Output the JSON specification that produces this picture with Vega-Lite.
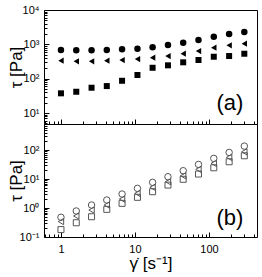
{
  "$schema": "https://vega.github.io/schema/vega-lite/v6.json",
  "padding": {"left": 6, "top": 3, "right": 4, "bottom": 0},
  "spacing": 0,
  "bounds": "flush",
  "datasets": {
    "top": [
      {"s": "c", "x": 1, "y": 684}, {"s": "c", "x": 1.61, "y": 670}, {"s": "c", "x": 2.59, "y": 670}, {"s": "c", "x": 4.16, "y": 684}, {"s": "c", "x": 6.69, "y": 716}, {"s": "c", "x": 10.8, "y": 747}, {"s": "c", "x": 17.3, "y": 818}, {"s": "c", "x": 27.9, "y": 955}, {"s": "c", "x": 44.8, "y": 1114}, {"s": "c", "x": 72.1, "y": 1337}, {"s": "c", "x": 116, "y": 1668}, {"s": "c", "x": 187, "y": 2000}, {"s": "c", "x": 300, "y": 2287},
      {"s": "t", "x": 1, "y": 334}, {"s": "t", "x": 1.61, "y": 320}, {"s": "t", "x": 2.59, "y": 320}, {"s": "t", "x": 4.16, "y": 334}, {"s": "t", "x": 6.69, "y": 350}, {"s": "t", "x": 10.8, "y": 374}, {"s": "t", "x": 17.3, "y": 408}, {"s": "t", "x": 27.9, "y": 457}, {"s": "t", "x": 44.8, "y": 533}, {"s": "t", "x": 72.1, "y": 639}, {"s": "t", "x": 116, "y": 798}, {"s": "t", "x": 187, "y": 937}, {"s": "t", "x": 300, "y": 1043},
      {"s": "s", "x": 1, "y": 37.5}, {"s": "s", "x": 1.61, "y": 41.7}, {"s": "s", "x": 2.59, "y": 54.6}, {"s": "s", "x": 4.16, "y": 61}, {"s": "s", "x": 6.69, "y": 87}, {"s": "s", "x": 10.8, "y": 128}, {"s": "s", "x": 17.3, "y": 208}, {"s": "s", "x": 27.9, "y": 245}, {"s": "s", "x": 44.8, "y": 300}, {"s": "s", "x": 72.1, "y": 350}, {"s": "s", "x": 116, "y": 436}, {"s": "s", "x": 187, "y": 457}, {"s": "s", "x": 300, "y": 533}
    ],
    "bottom": [
      {"s": "c", "x": 1, "y": 0.48}, {"s": "c", "x": 1.61, "y": 0.79}, {"s": "c", "x": 2.59, "y": 1.27}, {"s": "c", "x": 4.16, "y": 1.89}, {"s": "c", "x": 6.69, "y": 3.04}, {"s": "c", "x": 10.8, "y": 4.77}, {"s": "c", "x": 17.3, "y": 7.7}, {"s": "c", "x": 27.9, "y": 12}, {"s": "c", "x": 44.8, "y": 19.4}, {"s": "c", "x": 72.1, "y": 32}, {"s": "c", "x": 116, "y": 51.7}, {"s": "c", "x": 187, "y": 83}, {"s": "c", "x": 300, "y": 137},
      {"s": "t", "x": 1, "y": 0.34}, {"s": "t", "x": 1.61, "y": 0.53}, {"s": "t", "x": 2.59, "y": 0.85}, {"s": "t", "x": 4.16, "y": 1.27}, {"s": "t", "x": 6.69, "y": 2.04}, {"s": "t", "x": 10.8, "y": 3.2}, {"s": "t", "x": 17.3, "y": 5.2}, {"s": "t", "x": 27.9, "y": 8.1}, {"s": "t", "x": 44.8, "y": 13}, {"s": "t", "x": 72.1, "y": 21.6}, {"s": "t", "x": 116, "y": 34.8}, {"s": "t", "x": 187, "y": 56}, {"s": "t", "x": 300, "y": 87},
      {"s": "s", "x": 1, "y": 0.18}, {"s": "s", "x": 1.61, "y": 0.31}, {"s": "s", "x": 2.59, "y": 0.5}, {"s": "s", "x": 4.16, "y": 0.9}, {"s": "s", "x": 6.69, "y": 1.45}, {"s": "s", "x": 10.8, "y": 2.34}, {"s": "s", "x": 17.3, "y": 3.65}, {"s": "s", "x": 27.9, "y": 6.2}, {"s": "s", "x": 44.8, "y": 9.8}, {"s": "s", "x": 72.1, "y": 14.9}, {"s": "s", "x": 116, "y": 24.5}, {"s": "s", "x": 187, "y": 39.5}, {"s": "s", "x": 300, "y": 63.6}
    ]
  },
  "vconcat": [
    {
      "width": 213,
      "height": 114,
      "layer": [
        {
          "data": {"name": "top"},
          "mark": {"type": "point", "filled": true, "opacity": 1, "color": "black", "strokeWidth": 0},
          "encoding": {
            "x": {"field": "x", "type": "quantitative", "scale": {"type": "log", "domain": [0.59, 445], "nice": false},
              "axis": {"title": null, "labels": false, "domain": false, "minExtent": 0, "maxExtent": 0,
                "values": [0.6,0.7,0.8,0.9,1,2,3,4,5,6,7,8,9,10,20,30,40,50,60,70,80,90,100,200,300,400],
                "tickSize": {"condition": {"test": "abs(log(datum.value)/LN10 - round(log(datum.value)/LN10)) < 0.001", "value": -5}, "value": -3}}},
            "y": {"field": "y", "type": "quantitative", "scale": {"type": "log", "domain": [4.8, 10000], "nice": false},
              "axis": {"title": "τ [Pa]", "domain": false, "minExtent": 18, "maxExtent": 18,
                "values": [5,6,7,8,9,10,20,30,40,50,60,70,80,90,100,200,300,400,500,600,700,800,900,1000,2000,3000,4000,5000,6000,7000,8000,9000,10000],
                "labelExpr": "datum.value == 10 ? '10¹' : datum.value == 100 ? '10²' : datum.value == 1000 ? '10³' : datum.value == 10000 ? '10⁴' : ''",
                "tickSize": {"condition": {"test": "abs(log(datum.value)/LN10 - round(log(datum.value)/LN10)) < 0.001", "value": -5}, "value": -3}}},
            "shape": {"field": "s", "type": "nominal", "scale": {"domain": ["c", "t", "s"], "range": ["circle", "triangle-left", "square"]}, "legend": null},
            "size": {"field": "s", "type": "nominal", "scale": {"domain": ["c", "t", "s"], "range": [42, 36, 30]}, "legend": null}
          }
        },
        {
          "data": {"values": [{"x": 192, "y": 12.5, "t": "(a)"}]},
          "mark": {"type": "text", "fontSize": 22, "font": "Liberation Sans", "align": "center", "baseline": "alphabetic", "color": "black"},
          "encoding": {
            "x": {"field": "x", "type": "quantitative"},
            "y": {"field": "y", "type": "quantitative"},
            "text": {"field": "t"}
          }
        }
      ]
    },
    {
      "width": 213,
      "height": 113,
      "layer": [
        {
          "data": {"name": "bottom"},
          "mark": {"type": "point", "filled": false, "opacity": 1, "color": "#555", "strokeWidth": 1},
          "encoding": {
            "x": {"field": "x", "type": "quantitative", "scale": {"type": "log", "domain": [0.59, 445], "nice": false},
              "axis": {"title": "γ̇ [s⁻¹]", "domain": false, "labelPadding": 11, "titlePadding": 1,
                "values": [0.6,0.7,0.8,0.9,1,2,3,4,5,6,7,8,9,10,20,30,40,50,60,70,80,90,100,200,300,400],
                "labelExpr": "datum.value == 1 ? '1' : datum.value == 10 ? '10' : datum.value == 100 ? '100' : ''",
                "tickSize": {"condition": {"test": "abs(log(datum.value)/LN10 - round(log(datum.value)/LN10)) < 0.001", "value": -5}, "value": -3}}},
            "y": {"field": "y", "type": "quantitative", "scale": {"type": "log", "domain": [0.1, 794], "nice": false},
              "axis": {"title": "τ [Pa]", "domain": false, "minExtent": 18, "maxExtent": 18,
                "values": [0.1,0.2,0.3,0.4,0.5,0.6,0.7,0.8,0.9,1,2,3,4,5,6,7,8,9,10,20,30,40,50,60,70,80,90,100,200,300,400,500,600,700],
                "labelExpr": "datum.value == 0.1 ? '10⁻¹' : datum.value == 1 ? '10⁰' : datum.value == 10 ? '10¹' : datum.value == 100 ? '10²' : ''",
                "tickSize": {"condition": {"test": "abs(log(datum.value)/LN10 - round(log(datum.value)/LN10)) < 0.001", "value": -5}, "value": -3}}},
            "shape": {"field": "s", "type": "nominal", "scale": {"domain": ["c", "t", "s"], "range": ["circle", "triangle-up", "square"]}, "legend": null},
            "size": {"field": "s", "type": "nominal", "scale": {"domain": ["c", "t", "s"], "range": [45, 30, 30]}, "legend": null}
          }
        },
        {
          "data": {"values": [{"x": 192, "y": 0.26, "t": "(b)"}]},
          "mark": {"type": "text", "fontSize": 22, "font": "Liberation Sans", "align": "center", "baseline": "alphabetic", "color": "black"},
          "encoding": {
            "x": {"field": "x", "type": "quantitative"},
            "y": {"field": "y", "type": "quantitative"},
            "text": {"field": "t"}
          }
        }
      ]
    }
  ],
  "config": {
    "view": {"stroke": "black", "strokeWidth": 1},
    "axis": {
      "grid": false,
      "labelFont": "Liberation Sans",
      "labelFontSize": 11,
      "labelColor": "black",
      "tickColor": "black",
      "tickWidth": 1,
      "labelPadding": 10,
      "titleFont": "Liberation Sans",
      "titleFontSize": 17,
      "titleFontWeight": "normal",
      "titleColor": "black"
    },
    "axisY": {"titlePadding": 1}
  }
}
